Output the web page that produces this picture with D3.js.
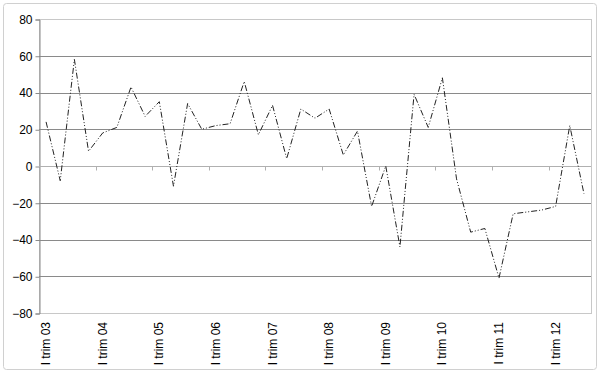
<!DOCTYPE html>
<meta charset="utf-8">
<head>
  <script src="https://cdn.jsdelivr.net/npm/d3@7"></script>
</head>
<style>
  body { margin: 0; background: #fff; }
  text { font-family: Arial, "Liberation Sans", sans-serif; font-size: 12px; fill: #000; }
</style>
<body></body>
<script>
  var years = ["03", "04", "05", "06", "07", "08", "09", "10", "11", "12"];
  var quarters = ["I", "II", "III", "IV"];
  var values = [24, -8, 58, 8,
                18, 21, 43, 27,
                35, -11, 34, 20,
                22, 23, 46, 17,
                33, 4, 31, 26,
                31, 6, 19, -22,
                0, -44, 39, 21,
                48, -7, -36, -34,
                -61, -26, -25, -24,
                -22, 22, -15];
  var yTicks = [-80, -60, -40, -20, 0, 20, 40, 60, 80];

  var categories = [];
  years.forEach(function(y) {
    quarters.forEach(function(q) { categories.push(q + " trim " + y); });
  });
  categories = categories.slice(0, values.length);

  var width = 600, height = 373;
  var mLeft = 39, mRight = 591, mTop = 19, mBottom = 313;

  var svg = d3.select("body").append("svg")
      .attr("width", width)
      .attr("height", height);

  // outer frame
  svg.append("rect")
      .attr("x", 3.5).attr("y", 3.5)
      .attr("width", 593).attr("height", 366)
      .attr("rx", 3)
      .attr("fill", "#fff")
      .attr("stroke", "#d0d0d0");

  var x = d3.scaleBand().domain(categories).range([mLeft, mRight]).padding(0);
  var y = d3.scaleLinear().domain([-80, 80]).range([mBottom, mTop]);

  // plot area border
  svg.append("rect")
      .attr("x", mLeft + 0.5).attr("y", y(80) + 0.5)
      .attr("width", mRight - mLeft).attr("height", y(-80) - y(80))
      .attr("fill", "none")
      .attr("stroke", "#c8c8c8");

  // gridlines
  svg.selectAll("line.grid")
      .data(yTicks.filter(function(d) { return d != 80 && d != -80 && d != 0; }))
      .enter().append("line")
      .attr("class", "grid")
      .attr("x1", mLeft).attr("x2", mRight)
      .attr("y1", function(d) { return Math.round(y(d)) + 0.5; })
      .attr("y2", function(d) { return Math.round(y(d)) + 0.5; })
      .attr("stroke", "#8a8a8a");

  // y axis
  var yAxis = svg.append("g")
      .attr("transform", "translate(" + (mLeft + 0.5) + ",0.5)")
      .call(d3.axisLeft(y).tickValues(yTicks).tickSize(4).tickPadding(3));
  yAxis.select(".domain").attr("stroke", "#8a8a8a");
  yAxis.selectAll(".tick line").attr("stroke", "#8a8a8a");
  yAxis.selectAll(".tick text").attr("font-size", 12).attr("font-family", "Arial, 'Liberation Sans', sans-serif").attr("fill", "#000");

  // category axis at zero
  var tickCats = categories.filter(function(d, i) { return i % 4 == 0; });
  var zeroY = Math.round(y(0)) + 0.5;
  svg.append("line")
      .attr("x1", mLeft).attr("x2", mRight)
      .attr("y1", zeroY).attr("y2", zeroY)
      .attr("stroke", "#b0b0b0");
  svg.selectAll("line.xtick")
      .data(tickCats.slice(1))
      .enter().append("line")
      .attr("class", "xtick")
      .attr("x1", function(d) { return Math.round(x(d)) + 0.5; })
      .attr("x2", function(d) { return Math.round(x(d)) + 0.5; })
      .attr("y1", zeroY).attr("y2", zeroY + 4)
      .attr("stroke", "#b0b0b0");

  // category labels, rotated, at the bottom
  svg.selectAll("text.xlab")
      .data(tickCats)
      .enter().append("text")
      .attr("class", "xlab")
      .attr("transform", function(d) {
        return "translate(" + (x(d) + x.bandwidth() / 2 + 4) + "," + 322 + ") rotate(-90)";
      })
      .attr("text-anchor", "end")
      .text(function(d) { return d; });

  // series
  var line = d3.line()
      .x(function(d, i) { return x(categories[i]) + x.bandwidth() / 2; })
      .y(function(d) { return y(d); });

  svg.append("path")
      .datum(values)
      .attr("d", line)
      .attr("fill", "none")
      .attr("stroke", "#222")
      .attr("stroke-width", 1)
      .attr("stroke-dasharray", "6,2,1,2,1,2");
</script>
